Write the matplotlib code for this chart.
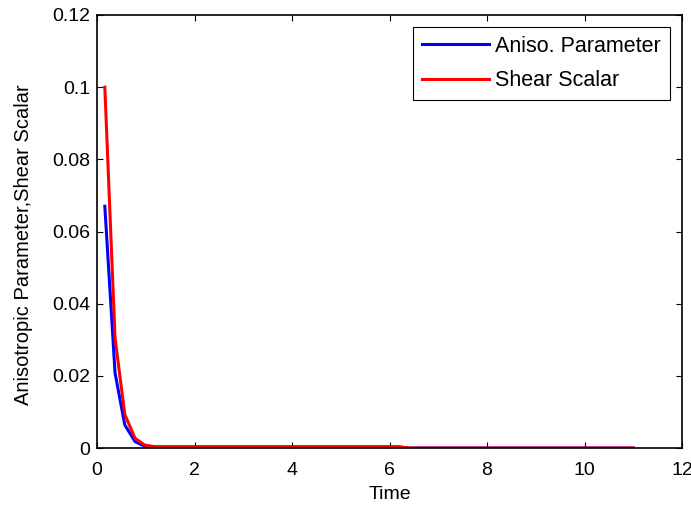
import matplotlib.pyplot as plt

plt.rcParams['font.family'] = ['Liberation Sans', 'DejaVu Sans']

# values
time = [0.16, 0.37, 0.57, 0.78, 0.98, 1.19, 2, 3, 4, 5, 6, 6.2, 6.4, 8, 10, 11]
aniso = [0.067, 0.0208, 0.0064, 0.0018, 0.0005, 0.0002, 0.0002, 0.0002, 0.0002,
         0.0002, 0.0002, 0.0002, 0.0, 0.0, 0.0, 0.0]
shear = [0.1, 0.0305, 0.0093, 0.0027, 0.0008, 0.0004, 0.0004, 0.0004, 0.0004,
         0.0004, 0.0004, 0.0004, 0.0, 0.0, 0.0, 0.0]

fig = plt.figure(figsize=(6.91, 5.08), dpi=100)
ax = fig.add_axes([0.1404, 0.118, 0.8466, 0.8525])

ax.plot(time, aniso, color='#0000ff', lw=2.2, label='Aniso. Parameter')
ax.plot(time, shear, color='#ff0000', lw=2.2, label='Shear Scalar')

ax.set_xlim(0, 12)
ax.set_ylim(0, 0.12)
ax.set_xticks([0, 2, 4, 6, 8, 10, 12])
ax.set_yticks([0, 0.02, 0.04, 0.06, 0.08, 0.1, 0.12])
ax.set_yticklabels(['0', '0.02', '0.04', '0.06', '0.08', '0.1', '0.12'])
ax.tick_params(direction='in', top=True, right=True, length=4, width=0.8,
               labelsize=14)
ax.tick_params(axis='x', pad=10)
ax.tick_params(axis='y', pad=5)
for s in ax.spines.values():
    s.set_linewidth(1.2)

ax.set_xlabel('Time', fontsize=14, labelpad=5)
ax.set_ylabel('Anisotropic Parameter,Shear Scalar', fontsize=14.5)
ax.yaxis.set_label_coords(-0.11, 0.469)

leg = ax.legend(loc='upper right', fontsize=15.5, fancybox=False, framealpha=1,
                edgecolor='black', borderaxespad=0.55, handlelength=3.1,
                handletextpad=0.3, labelspacing=0.62, borderpad=0.42)
leg.get_frame().set_linewidth(0.8)

fig.savefig('out.png', dpi=100)
